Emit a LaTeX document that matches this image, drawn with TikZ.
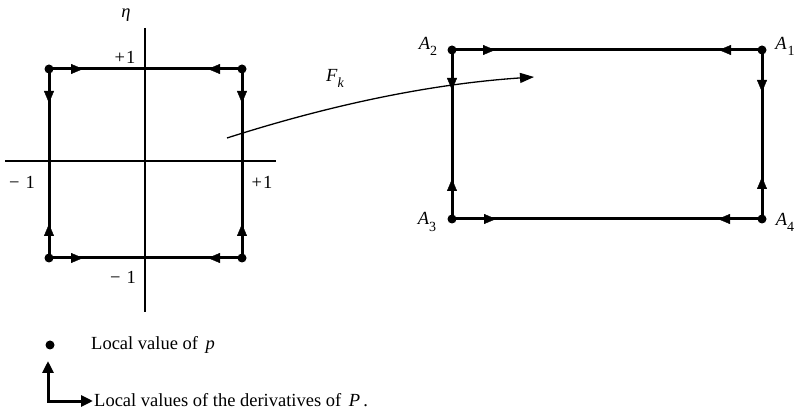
\documentclass[tikz,border=0pt]{standalone}
\usepackage{fontspec}
\setmainfont{Liberation Serif}
\usetikzlibrary{arrows.meta,decorations.markings}
\newcommand{\mysub}[1]{\raisebox{-0.33em}{\fontsize{14}{14}\selectfont #1}}
\begin{document}
\begin{tikzpicture}[x=1pt,y=-1pt,
  dot/.style={circle,fill=black,inner sep=0pt,minimum size=9pt},
  edge/.style={line width=3pt,postaction={decorate,decoration={markings,
     mark=at position #1 with {\arrow[line width=0.3pt]{Triangle[length=12pt,width=10pt]}},
     mark=at position -#1 with {\arrowreversed[line width=0.3pt]{Triangle[length=12pt,width=10pt]}}}}},
  axis/.style={line width=1.2pt},
  lbl/.style={font=\fontsize{18.5}{20}\selectfont,inner sep=0pt}]
\useasboundingbox (0,0) rectangle (803,411);
% left square
\node[dot] (tl) at (49,69) {};
\node[dot] (tr) at (242,69) {};
\node[dot] (bl) at (49,258) {};
\node[dot] (br) at (242,258) {};
\coordinate (xl) at (5,161);
\coordinate (xr) at (276,161);
\coordinate (yt) at (145,28);
\coordinate (yb) at (145,312);
\draw[axis] (xl) -- (xr);
\draw[axis] (yt) -- (yb);
\draw[edge=34pt] (tl.center) -- (tr.center);
\draw[edge=34pt] (tl.center) -- (bl.center);
\draw[edge=34pt] (tr.center) -- (br.center);
\draw[edge=34pt] (bl.center) -- (br.center);
\node[lbl] (eta) at (126,15) {\textit{η}};
\node[lbl] (pt) at (125,57) {+\kern1pt1};
\node[lbl] (ml) at (22,182) {−\kern6pt1};
\node[lbl] (pr) at (262,182) {+\kern1pt1};
\node[lbl] (mb) at (123,277) {−\kern6pt1};
% right rectangle
\node[dot] (a2) at (452,50) {};
\node[dot] (a1) at (762,50) {};
\node[dot] (a3) at (452,219) {};
\node[dot] (a4) at (762,219) {};
\draw[edge=43pt] (a2.center) -- (a1.center);
\draw[edge=40pt] (a2.center) -- (a3.center);
\draw[edge=42pt] (a1.center) -- (a4.center);
\draw[edge=44pt] (a3.center) -- (a4.center);
\node[lbl] (la2) at (428,46) {\textit{A}\mysub{2}};
\node[lbl] (la1) at (785,46) {\textit{A}\kern1pt\mysub{1}};
\node[lbl] (la3) at (427,222) {\textit{A}\mysub{3}};
\node[lbl] (la4) at (785,222) {\textit{A}\mysub{4}};
% mapping
\coordinate (fs) at (227,138);
\coordinate (fe) at (534,77);
\draw[line width=1.3pt,-{Triangle[length=14pt,width=10pt]}] (fs) .. controls (330,105) and (430,84) .. (fe);
\node[lbl] (fk) at (335,78) {\textit{F}\mysub{\textit{k}}};
% legend
\node[dot] (ld) at (50,345) {};
\node[lbl,anchor=west] (lt1) at (91,345) {Local value of\, \textit{p}};
\coordinate (lv) at (48,361);
\coordinate (lh) at (93,401);
\draw[line width=3pt,{Triangle[length=12pt,width=11pt]}-{Triangle[length=12pt,width=11pt]}] (lv) |- (lh);
\node[lbl,anchor=west] (lt2) at (94,400) {Local values of the derivatives of\, \textit{P}\,.};
\end{tikzpicture}
\end{document}
